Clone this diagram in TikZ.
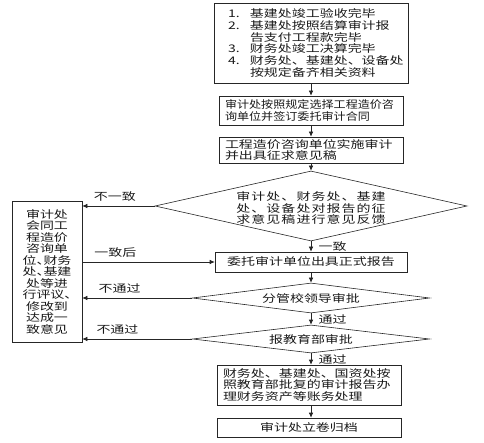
\documentclass[tikz,border=0pt]{standalone}
\usepackage{fontspec}
\setmainfont{Noto Sans CJK SC}[FakeStretch=1.33]
\newfontfamily\cjknarrow{Noto Sans CJK SC}[FakeStretch=1.15]
\newfontfamily\cjkwide{Noto Sans CJK SC}[FakeStretch=1.33,LetterSpace=10]
\newfontfamily\cjkhalt{Noto Sans CJK SC}[FakeStretch=1.33,RawFeature=+halt]
\usepackage{tikz}
\usetikzlibrary{shapes.geometric}
\usetikzlibrary{arrows.meta}
\tikzset{>={Latex[length=5pt,width=4.5pt]}}
\colorlet{linegray}{black!85}
\tikzstyle{box}=[draw=linegray,line width=0.6pt,rectangle,inner xsep=6pt,inner ysep=1pt,align=left]
\tikzstyle{dia}=[draw=linegray,line width=0.6pt,diamond,inner sep=0pt]
\tikzstyle{txt}=[inner sep=1pt,align=center]
\tikzstyle{flow}=[->,draw=linegray,line width=0.6pt]
\tikzset{every node/.style={font=\fontsize{10.5}{11.7}\selectfont,text=black!90}}

\begin{document}
\begin{tikzpicture}[x=1pt,y=-1pt]
\useasboundingbox (0,0) rectangle (484,443);

% main column
\node[box,minimum width=194pt,minimum height=80pt,text width=166pt,inner xsep=14pt] (b1) at (311,43)
  {\makebox[22pt][l]{1.}基建处竣工验收完毕\\
   \makebox[22pt][l]{2.}基建处按照结算审计报\\
   \hspace*{22pt}告支付工程款完毕\\
   \makebox[22pt][l]{3.}财务处竣工决算完毕\\
   \makebox[22pt][l]{4.}财务处、基建处、设备处\\
   \hspace*{22pt}按规定备齐相关资料};
\node[box,minimum width=184pt,minimum height=29pt,text width=172pt,font=\cjknarrow\fontsize{10.5}{11.7}\selectfont] (b2) at (311,110.5)
  {审计处按照规定选择工程造价咨\\询单位并签订委托审计合同};
\node[box,minimum width=184pt,minimum height=26pt,text width=172pt] (b3) at (311,150)
  {工程造价咨询单位实施审计\\并出具征求意见稿};
\node[dia,minimum width=312pt,minimum height=70pt] (d1) at (311,206) {};
\node[txt,font=\cjkwide\fontsize{10.5}{11.7}\selectfont] (d1t) at (311,208)
  {审计处、财务处、基建\\处、设备处对报告的征\\求意见稿进行意见反馈};
\node[box,minimum width=192pt,minimum height=20pt,align=center] (b4) at (311,262) {委托审计单位出具正式报告};
\node[dia,minimum width=237pt,minimum height=30pt] (d2) at (311,298) {};
\node[txt] (d2t) at (d2) {分管校领导审批};
\node[dia,minimum width=237pt,minimum height=28pt] (d3) at (311,339) {};
\node[txt] (d3t) at (d3) {报教育部审批};
\node[box,minimum width=184pt,minimum height=40pt,text width=172pt] (b5) at (309,385)
  {财务处、基建处、国资处按\\照教育部批复的审计报告办\\理财务资产等账务处理};
\node[box,minimum width=184pt,minimum height=19pt,align=center] (b6) at (309,427.5) {审计处立卷归档};

% left box
\node[box,minimum width=70pt,minimum height=141pt,inner xsep=2pt,align=center,
      font=\cjkhalt\fontsize{10.5}{11.5}\selectfont] (lbox) at (47,271.5)
  {审计处\\会同工\\程造价\\咨询单\\位、财务\\处、基建\\处等进\\行评议、\\修改到\\达成一\\致意见};

% arrows down
\draw[flow] (b1.south |- b1.south) -- (b1.south |- b2.north);
\draw[flow] (b2.south) -- (b3.north);
\draw[flow] (b3.south) -- (d1.north);
\draw[flow] (d1.south) -- node[right=4pt] (l2) {一致} (b4.north);
\draw[flow] (b4.south) -- (d2.north);
\draw[flow] (d2.south) -- node[right=4pt] (l4) {通过} (d3.north);
\draw[flow] (d3.south) -- node[right=4pt] (l6) {通过} (d3.south |- b5.north);
\draw[flow] (d3.south |- b5.south) -- (d3.south |- b6.north);

% arrows to and from left box
\draw[flow] (d1.west) -- node[above=1pt,pos=0.55] (l1) {不一致} (d1.west -| lbox.east);
\draw[flow] (lbox.east |- b4.west) -- node[above=1pt,pos=0.25] (l3) {一致后} (b4.west);
\draw[flow] (d2.west) -- node[above=1pt,pos=0.66] (l5) {不通过} (d2.west -| lbox.east);
\draw[flow] (d3.west) -- node[above=1pt,pos=0.68] (l7) {不通过} (d3.west -| lbox.east);
\end{tikzpicture}
\end{document}
